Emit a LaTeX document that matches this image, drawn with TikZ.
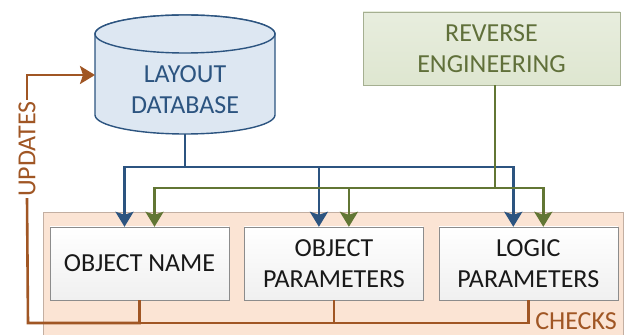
\documentclass[tikz,border=0pt]{standalone}
\usepackage{fontspec}
\setmainfont{Carlito}
\usetikzlibrary{arrows.meta,positioning}
\definecolor{dbblue}{RGB}{44,84,128}
\definecolor{dbfill}{RGB}{221,231,242}
\definecolor{refill}{RGB}{222,230,208}
\definecolor{reline}{RGB}{165,175,145}
\definecolor{retext}{RGB}{96,112,58}
\definecolor{olivegreen}{RGB}{98,118,52}
\definecolor{rustbrown}{RGB}{160,86,36}
\definecolor{peach}{RGB}{251,228,212}
\definecolor{peachline}{RGB}{195,175,162}
\begin{document}
\begin{tikzpicture}[x=1pt,y=1pt,node distance=15pt,
   txt/.style={font=\fontsize{26}{31}\selectfont,align=center},
   chkbox/.style={txt,draw=black!45,top color=white,bottom color=black!6,
                  minimum width=179pt,minimum height=73pt,inner sep=0pt,text=black!90},
   rebox/.style={txt,draw=reline,top color=refill!70,bottom color=refill,
                 minimum width=257pt,minimum height=73pt,text=retext},
   bluear/.style={-{Stealth[length=15pt,width=18pt,inset=3pt]},line width=2.6pt,dbblue},
   greenar/.style={-{Stealth[length=15pt,width=18pt,inset=3pt]},line width=2.6pt,olivegreen},
   brownln/.style={line width=2.6pt,rustbrown}]
  \useasboundingbox (0,0) rectangle (625,335);
  % checks area
  \fill[peach,draw=peachline] (43,-3) rectangle (623,123);
  % layout database drawn as a cylinder
  \coordinate (dbtop) at (185,301);
  \coordinate (dbbot) at (185,220);
  \coordinate (dbout) at (185,201);
  \coordinate (dbin) at (95,260);
  \filldraw[fill=dbfill,draw=dbblue,line width=1.4pt]
    ([xshift=-90pt]dbtop) -- ([xshift=-90pt]dbbot)
    arc[start angle=180,end angle=360,x radius=90pt,y radius=19pt]
    -- ([xshift=90pt]dbtop)
    arc[start angle=0,end angle=180,x radius=90pt,y radius=19pt];
  \draw[dbblue,line width=1.4pt,fill=dbfill] (dbtop) ellipse[x radius=90pt,y radius=19pt];
  \node[txt,text=dbblue] (db) at (185,245) {LAYOUT\\DATABASE};
  \node[rebox] (re) at (491.5,286.5) {REVERSE\\ENGINEERING};
  \node[chkbox] (name) at (139.5,71.5) {OBJECT NAME};
  \node[chkbox,right=15pt of name] (objpar) {OBJECT\\PARAMETERS};
  \node[chkbox,right=15pt of objpar] (logpar) {LOGIC\\PARAMETERS};
  % read links
  \coordinate (bbus) at (185,168);
  \coordinate (gbus) at (495,147);
  \draw[bluear] (dbout) -- (bbus) -| ([xshift=-15pt]name.north);
  \draw[bluear] (bbus) -| ([xshift=-15pt]objpar.north);
  \draw[bluear] (bbus) -| ([xshift=-15pt]logpar.north);
  \draw[greenar] (re.south -| gbus) -- (gbus) -| ([xshift=15pt]name.north);
  \draw[greenar] (gbus) -| ([xshift=15pt]objpar.north);
  \draw[greenar] (gbus) -| ([xshift=15pt]logpar.north);
  % updates loop
  \coordinate (ubus) at (28,12);
  \node[txt,text=rustbrown,rotate=90,inner sep=1pt] (upd) at (27,186) {UPDATES};
  \draw[brownln] (name.south) |- (ubus) -- (upd.west);
  \draw[brownln,-{Stealth[length=15pt,width=18pt,inset=3pt]}] (upd.east) |- (dbin);
  \draw[brownln] (objpar.south) |- (name.south |- ubus);
  \draw[brownln] (logpar.south) |- (name.south |- ubus);
  \node[txt,text=rustbrown,anchor=base east,inner sep=0pt] (chk) at (617,5) {CHECKS};
\end{tikzpicture}
\end{document}
